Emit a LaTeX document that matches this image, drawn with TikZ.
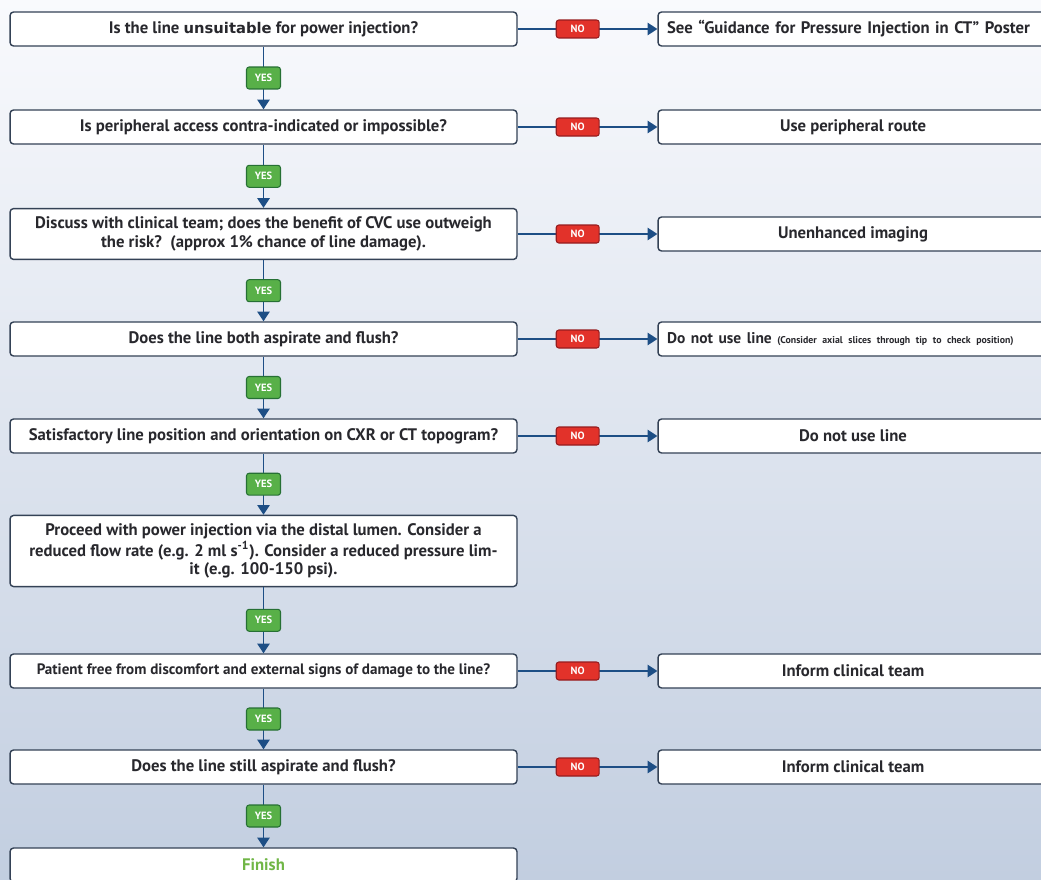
\documentclass[tikz,border=0pt]{standalone}
\usepackage{fontspec}
\setmainfont{PT Sans}
\newfontfamily\heavyfont{DejaVu Sans}
\usetikzlibrary{arrows.meta}
\definecolor{flowblue}{RGB}{29,78,133}
\definecolor{boxline}{RGB}{52,66,86}
\definecolor{boxtext}{RGB}{40,40,45}
\definecolor{yesgreen}{RGB}{88,176,72}
\definecolor{yesedge}{RGB}{38,112,52}
\definecolor{nored}{RGB}{226,50,42}
\definecolor{noedge}{RGB}{150,28,30}
\definecolor{finishgreen}{RGB}{112,182,70}
\definecolor{bgtop}{RGB}{249,250,253}
\definecolor{bgbottom}{RGB}{194,206,224}
\tikzset{
  question/.style={shape=rectangle, draw=boxline, fill=white, line width=.8pt,
    rounded corners=2pt, minimum width=10.14cm, minimum height=.68cm,
    inner ysep=.17cm, align=center, text=boxtext,
    font=\fontsize{9.5}{10.4}\selectfont\bfseries},
  answer/.style={question, minimum width=7.8cm},
  yes/.style={fill=yesgreen, draw=yesedge, line width=.6pt, rounded corners=1.5pt,
    minimum width=.68cm, minimum height=.44cm, inner sep=0pt},
  no/.style={fill=nored, draw=noedge, line width=.6pt, rounded corners=1.5pt,
    minimum width=.86cm, minimum height=.36cm, inner sep=0pt, pos=.43}
}
\begin{document}
\begin{tikzpicture}[x=.02cm, y=-.02cm, >={Triangle[length=5.5pt,width=7pt]}]
\useasboundingbox (0,0) rectangle (1041,879);
\clip (0,0) rectangle (1041,879);
\shade[top color=bgtop, bottom color=bgbottom] (0,0) rectangle (1041,879);
\begin{scope}[nodes=question]
  \node (q1) at (263.5, 29) {Is the line {\heavyfont\fontsize{8.4}{9}\selectfont unsuitable} for power injection?};
  \node (q2) at (263.5,127) {Is peripheral access contra-indicated or impossible?};
  \node (q3) at (263.5,234) {Discuss with clinical team; does the benefit of CVC use outweigh\\the risk?\ \ (approx 1\% chance of line damage).};
  \node (q4) at (263.5,339) {Does the line both aspirate and flush?};
  \node (q5) at (263.5,436) {Satisfactory line position and orientation on CXR or CT topogram?};
  \node (q6) at (263.5,551) {Proceed with power injection via the distal lumen. Consider a\\reduced flow rate (e.g. 2 ml s\textsuperscript{-1}). Consider a reduced pressure lim-\\it (e.g. 100-150 psi).};
  \node[font=\fontsize{8.6}{10}\selectfont\bfseries] (q7) at (263.5,671) {Patient free from discomfort and external signs of damage to the line?};
  \node (q8) at (263.5,767) {Does the line still aspirate and flush?};
  \node (fin) at (263.5,865) {\color{finishgreen}Finish};
\end{scope}
\begin{scope}[nodes=answer]
  \node[text width=7.44cm, align=left] (a1) at (853, 29) {\mbox{See “Guidance for Pressure Injection in CT” Poster}};
  \node (a2) at (853,127) {Use peripheral route};
  \node (a3) at (853,234) {Unenhanced imaging};
  \node[text width=7.44cm, align=left] (a4) at (853,339) {\mbox{\fontsize{8.8}{10}\selectfont Do not use line {\fontsize{5.6}{6}\selectfont(Consider axial slices through tip to check position)}}};
  \node (a5) at (853,436) {Do not use line};
  \node (a7) at (853,671) {Inform clinical team};
  \node (a8) at (853,767) {Inform clinical team};
\end{scope}
\tikzset{nodes={font=\fontsize{6}{7}\selectfont\bfseries, text=white}}
\path[->, every edge/.append style={draw=flowblue, line width=.9pt}]
          (q1) edge node[yes] {YES} (q2)
          (q2) edge node[yes] {YES} (q3)
          (q3) edge node[yes] {YES} (q4)
          (q4) edge node[yes] {YES} (q5)
          (q5) edge node[yes] {YES} (q6)
          (q6) edge node[yes] {YES} (q7)
          (q7) edge node[yes] {YES} (q8)
          (q8) edge node[yes] {YES} (fin)
          %
          (q1) edge node[no] {NO} (a1)
          (q2) edge node[no] {NO} (a2)
          (q3) edge node[no] {NO} (a3)
          (q4) edge node[no] {NO} (a4)
          (q5) edge node[no] {NO} (a5)
          (q7) edge node[no] {NO} (a7)
          (q8) edge node[no] {NO} (a8);
\end{tikzpicture}
\end{document}
